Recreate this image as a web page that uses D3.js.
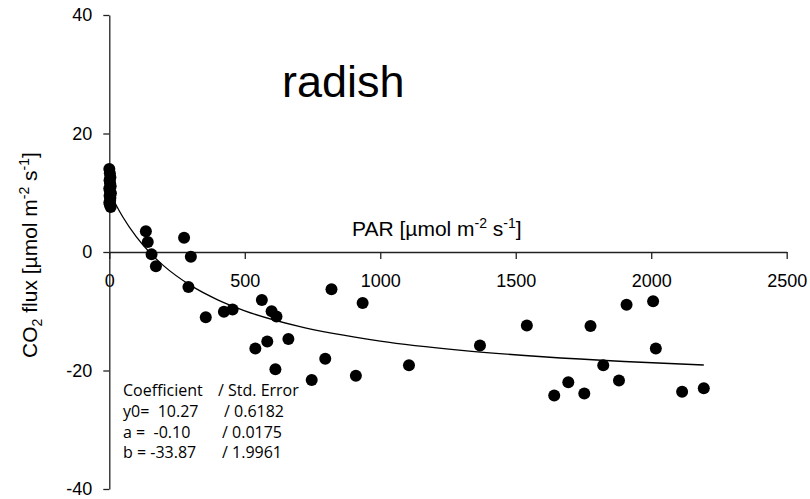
<!DOCTYPE html>
<html>
<head>
<meta charset="utf-8">
<script src="https://cdn.jsdelivr.net/npm/d3@7"></script>
<style>
  body { margin: 0; background: #fff; }
  svg { display: block; }
  .axis text { font-family: "Liberation Sans", Arial, sans-serif; font-size: 18px; fill: #000; }
  .axis path, .axis line { stroke: #222; stroke-width: 1.3; }
  .lbl { font-family: "Liberation Sans", Arial, sans-serif; fill: #000; }
  .coef { font-family: "Open Sans", sans-serif; font-size: 16px; fill: #000; white-space: pre; }
</style>
</head>
<body>
<div id="chart"></div>
<script>
// measured points (PAR, CO2 flux)
const parVals = [0, 2, 4, 1, 3, 5, 0, 2, 6, 1, 4, 3, 0, 2, 5,
  135, 142, 156, 172, 276, 301, 292,
  356, 423, 455, 563, 599, 617, 539, 583, 661, 613, 797, 747, 910, 820, 935,
  1106, 1368, 1541, 1776, 1823, 1694, 1642, 1753,
  1909, 2007, 2017, 1881, 2114, 2194];
const fluxVals = [14.0, 13.3, 12.6, 12.1, 11.6, 11.1, 10.7, 10.3, 9.9, 9.5, 9.1, 8.7, 8.3, 8.0, 7.6,
  3.5, 1.7, -0.4, -2.4, 2.4, -0.8, -5.9,
  -11.0, -10.1, -9.7, -8.1, -10.0, -10.9, -16.3, -15.1, -14.7, -19.8, -18.0, -21.6, -20.9, -6.3, -8.6,
  -19.1, -15.8, -12.4, -12.5, -19.1, -22.0, -24.2, -23.9,
  -8.9, -8.3, -16.3, -21.7, -23.6, -23.0];

// fitted line
const fitPar = [0, 25, 50, 100, 150, 200, 300, 400, 500, 700, 1000, 1300, 1600, 1900, 2194];
const fitFlux = [10.27, 7.94, 5.91, 2.55, -0.13, -2.30, -5.64, -8.07, -9.92, -12.56, -15.03, -16.60, -17.68, -18.48, -19.07];

const xTicks = [0, 500, 1000, 1500, 2000, 2500];
const yTicks = [-40, -20, 0, 20, 40];

// coefficient box: coefficient and std. error columns
const coefLeft = ["Coefficient", "y0=  10.27", "a =  -0.10", "b = -33.87"];
const coefRight = ["/ Std. Error", "/ 0.6182", "/ 0.0175", "/ 1.9961"];

const W = 810, H = 499;
const svg = d3.select("#chart").append("svg").attr("width", W).attr("height", H);

const x = d3.scaleLinear().domain([0, 2500]).range([109.3, 786.7]);
const y = d3.scaleLinear().domain([-40, 40]).range([489, 15]);

// x axis crosses at zero
svg.append("g")
  .attr("class", "axis")
  .attr("transform", `translate(0,${y(0)})`)
  .call(d3.axisBottom(x).tickValues(xTicks).tickFormat(d => String(d))
    .tickSize(7).tickSizeOuter(0).tickPadding(15));

svg.append("g")
  .attr("class", "axis")
  .attr("transform", `translate(${x(0)},0)`)
  .call(d3.axisLeft(y).tickValues(yTicks).tickFormat(d => String(d))
    .tickSize(6).tickSizeOuter(0).tickPadding(11));

// fit curve
const line = d3.line()
  .x((d, i) => x(fitPar[i]))
  .y(d => y(d))
  .curve(d3.curveMonotoneX);

svg.append("path")
  .attr("d", line(fitFlux))
  .attr("fill", "none")
  .attr("stroke", "#000")
  .attr("stroke-width", 1.3);

// points
svg.selectAll(".dot")
  .data(parVals.map((p, i) => ({ p: p, f: fluxVals[i] })))
  .enter()
  .append("circle")
  .attr("class", "dot")
  .attr("cx", d => x(d.p))
  .attr("cy", d => y(d.f))
  .attr("r", 6)
  .attr("fill", "#000");

// title
svg.append("text")
  .attr("class", "lbl")
  .attr("x", 282)
  .attr("y", 97)
  .style("font-size", "45px")
  .text("radish");

// x label
const xl = svg.append("text")
  .attr("class", "lbl")
  .attr("x", 352)
  .attr("y", 236)
  .style("font-size", "21px");
xl.append("tspan").text("PAR [µmol m");
xl.append("tspan").attr("dy", -8).style("font-size", "14px").text("-2");
xl.append("tspan").attr("dy", 8).text(" s");
xl.append("tspan").attr("dy", -8).style("font-size", "14px").text("-1");
xl.append("tspan").attr("dy", 8).text("]");

// y label
const yl = svg.append("text")
  .attr("class", "lbl")
  .attr("transform", "translate(37,255) rotate(-90)")
  .attr("text-anchor", "middle")
  .style("font-size", "21px");
yl.append("tspan").text("CO");
yl.append("tspan").attr("dy", 5).style("font-size", "14px").text("2");
yl.append("tspan").attr("dy", -5).text(" flux [µmol m");
yl.append("tspan").attr("dy", -8).style("font-size", "14px").text("-2");
yl.append("tspan").attr("dy", 8).text(" s");
yl.append("tspan").attr("dy", -8).style("font-size", "14px").text("-1");
yl.append("tspan").attr("dy", 8).text("]");

// coefficient table
const rowY = [395.5, 416.5, 437.5, 457.5];
const slashX = [218, 224, 222, 222];
coefLeft.forEach((t, i) => {
  svg.append("text").attr("class", "coef").attr("x", 123).attr("y", rowY[i]).text(t);
  svg.append("text").attr("class", "coef").attr("x", slashX[i]).attr("y", rowY[i]).text(coefRight[i]);
});
</script>
</body>
</html>
